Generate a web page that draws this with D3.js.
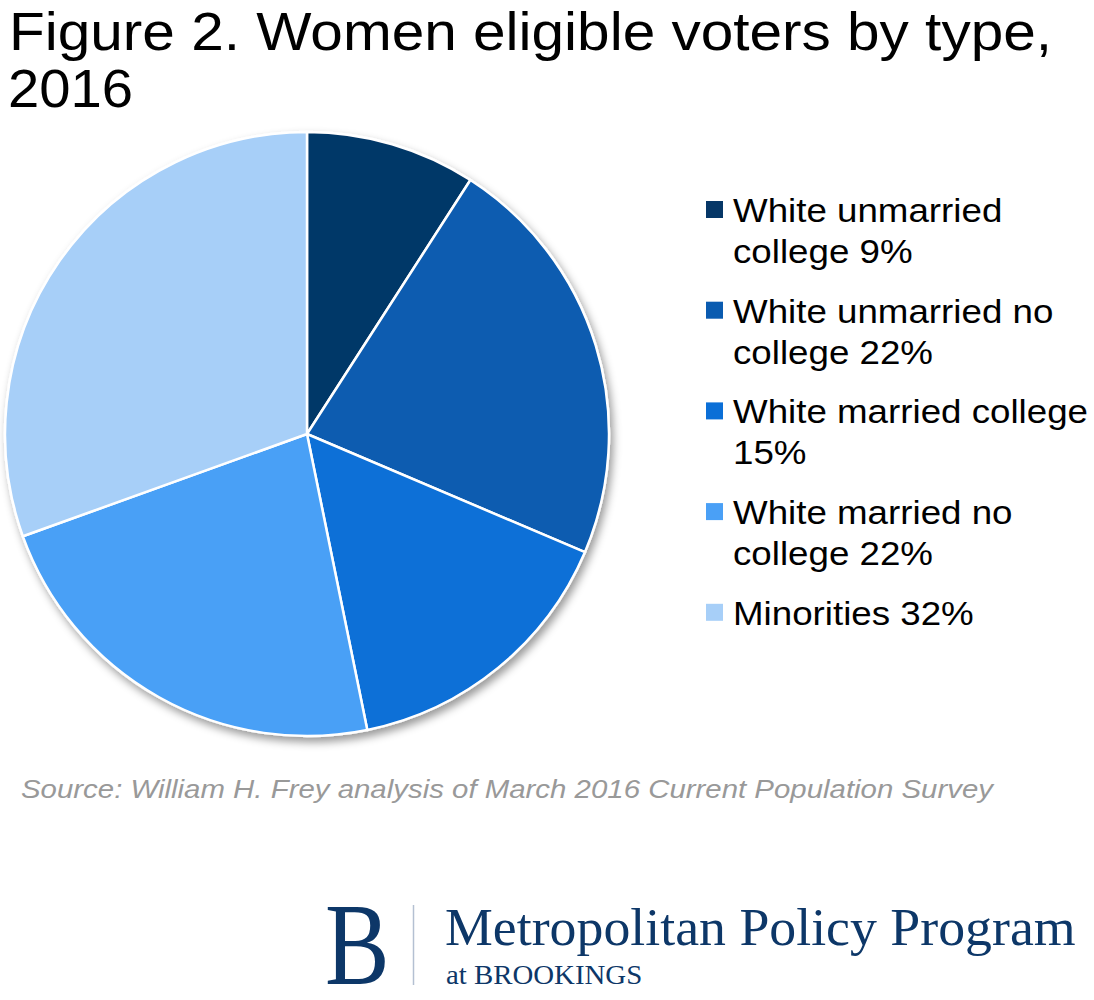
<!DOCTYPE html>
<html>
<head>
<meta charset="utf-8">
<script src="https://cdn.jsdelivr.net/npm/d3@7"></script>
<style>
  html, body { margin: 0; padding: 0; background: #fff; }
  text { font-family: "Liberation Sans", Arial, sans-serif; }
  .serif { font-family: "Liberation Serif", "Times New Roman", serif; }
</style>
</head>
<body>
<svg id="chart"></svg>
<script>
// Chart size
const width = 1094;
const height = 1000;

// Data
const categories = [
  "White unmarried college",
  "White unmarried no college",
  "White married college",
  "White married no college",
  "Minorities"
];
const labelPercents = [9, 22, 15, 22, 32];
// slice sizes as drawn (measured angles)
const sliceValues = [9.1, 22.3, 15.4, 22.7, 30.5];
const colors = ["#063767", "#0a5bb0", "#0b6fd7", "#4aa0f6", "#a7cff8"];

const titleLines = ["Figure 2. Women eligible voters by type,", "2016"];
const sourceText = "Source: William H. Frey analysis of March 2016 Current Population Survey";

// Layout constants
const CX = 307, CY = 434, R = 302;
const SX = 1.08;            // text in the picture runs a bit wide
const LEGEND_X = 706;
const LEGEND_TEXT_X = 733;
const LEGEND_Y0 = 222;
const LEGEND_STEP = 100.7;
const LEGEND_LINE = 41;
const LEGEND_MAX = 362;
const NAVY = "#0d3768";

const svg = d3.select("#chart")
  .attr("width", width)
  .attr("height", height)
  .attr("viewBox", [0, 0, width, height]);

const defs = svg.append("defs");
const shadow = defs.append("filter")
  .attr("id", "shadow")
  .attr("x", "-10%").attr("y", "-10%")
  .attr("width", "125%").attr("height", "125%");
shadow.append("feDropShadow")
  .attr("dx", 3).attr("dy", 5)
  .attr("stdDeviation", 4)
  .attr("flood-color", "#000")
  .attr("flood-opacity", 0.4);

function addText(parent, str, x, y, size, sx, sy = 1) {
  return parent.append("text")
    .attr("transform", `translate(${x},${y}) scale(${sx},${sy})`)
    .style("font-size", size + "px")
    .text(str);
}

// Title ----------------------------------------------------------------------
const title = svg.append("g");
addText(title, titleLines[0], 9, 50, 53, 1.0)
  .attr("textLength", 1043).attr("lengthAdjust", "spacingAndGlyphs");
addText(title, titleLines[1], 8, 107, 53, 1.0)
  .attr("textLength", 125).attr("lengthAdjust", "spacingAndGlyphs");

// Pie ------------------------------------------------------------------------
const pie = d3.pie().sort(null).value(d => d);
const arc = d3.arc().innerRadius(0).outerRadius(R);

svg.append("g")
  .attr("transform", `translate(${CX},${CY})`)
  .attr("filter", "url(#shadow)")
  .selectAll("path")
  .data(pie(sliceValues))
  .join("path")
    .attr("d", arc)
    .attr("fill", (d, i) => colors[i])
    .attr("stroke", "#fff")
    .attr("stroke-width", 2.5)
    .attr("stroke-linejoin", "round");

// Legend ---------------------------------------------------------------------
const legend = svg.append("g");

function wrapWords(str) {
  const words = str.split(" ");
  const probe = addText(legend, "", 0, -100, 34, SX);
  const lines = [];
  let line = [];
  for (const w of words) {
    line.push(w);
    probe.text(line.join(" "));
    if (probe.node().getComputedTextLength() * SX > LEGEND_MAX && line.length > 1) {
      line.pop();
      lines.push(line.join(" "));
      line = [w];
    }
  }
  lines.push(line.join(" "));
  probe.remove();
  return lines;
}

categories.forEach((cat, i) => {
  const y = LEGEND_Y0 + i * LEGEND_STEP;
  legend.append("rect")
    .attr("x", LEGEND_X)
    .attr("y", y - 21)
    .attr("width", 17)
    .attr("height", 17)
    .attr("fill", colors[i]);
  const lines = wrapWords(`${cat} ${labelPercents[i]}%`);
  lines.forEach((ln, j) => {
    addText(legend, ln, LEGEND_TEXT_X, y + j * LEGEND_LINE, 34, SX).attr("fill", "#000");
  });
});

// Source ---------------------------------------------------------------------
addText(svg, sourceText, 21, 798, 25, 1.0)
  .style("font-style", "italic")
  .attr("fill", "#999")
  .attr("textLength", 972)
  .attr("lengthAdjust", "spacingAndGlyphs");

// Logo -----------------------------------------------------------------------
const logo = svg.append("g").attr("fill", NAVY);
addText(logo, "B", 325, 984, 104, 0.93, 1.12)
  .attr("class", "serif");
logo.append("line")
  .attr("x1", 413.5).attr("x2", 413.5)
  .attr("y1", 905).attr("y2", 985)
  .attr("stroke", "#b4c0d2")
  .attr("stroke-width", 1.5);
addText(logo, "Metropolitan Policy Program", 445, 945, 52, 1.035)
  .attr("class", "serif");
addText(logo, "at BROOKINGS", 446, 984, 28, 1.03)
  .attr("class", "serif");
</script>
</body>
</html>
